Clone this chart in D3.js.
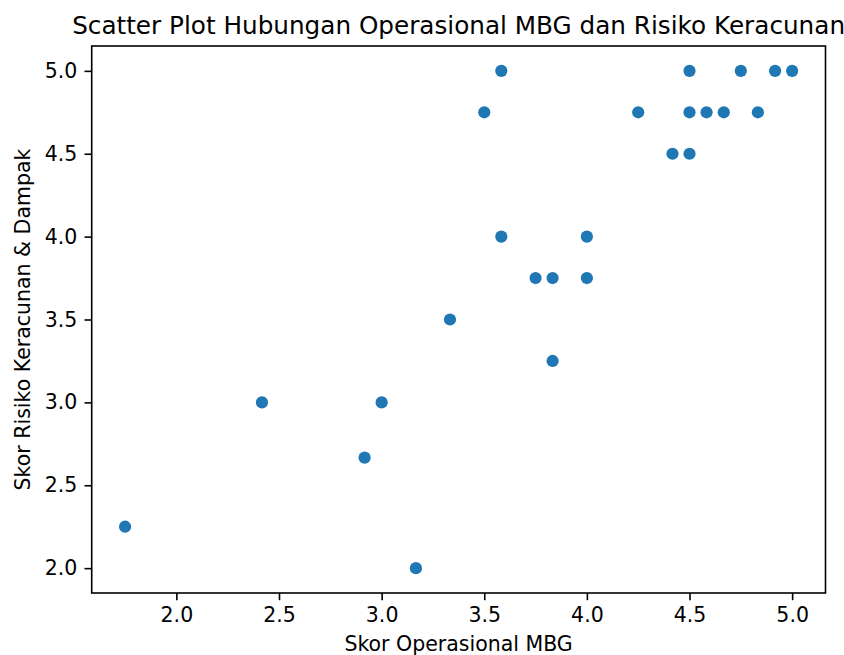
<!DOCTYPE html>
<html>
<head>
<meta charset="utf-8">
<script src="https://cdn.jsdelivr.net/npm/d3@7"></script>
<style>
  body { margin: 0; background: #fff; }
  svg { display: block; font-family: "DejaVu Sans", sans-serif; }
</style>
</head>
<body>
<div id="chart"></div>
<script>
// values
const skorOperasional = [1.75, 2.417, 3.0, 2.917, 3.167, 3.333, 3.5, 3.583, 3.583, 3.75, 3.833, 3.833, 4.0, 4.0,
  4.25, 4.417, 4.5, 4.5, 4.5, 4.583, 4.667, 4.75, 4.833, 4.917, 5.0];
const skorRisiko = [2.25, 3.0, 3.0, 2.667, 2.0, 3.5, 4.75, 5.0, 4.0, 3.75, 3.75, 3.25, 4.0, 3.75,
  4.75, 4.5, 4.5, 5.0, 4.75, 4.75, 4.75, 5.0, 4.75, 5.0, 5.0];
const xTicks = [2.0, 2.5, 3.0, 3.5, 4.0, 4.5, 5.0];
const yTicks = [2.0, 2.5, 3.0, 3.5, 4.0, 4.5, 5.0];

const chartTitle = "Scatter Plot Hubungan Operasional MBG dan Risiko Keracunan";
const xTitle = "Skor Operasional MBG";
const yTitle = "Skor Risiko Keracunan & Dampak";

const width = 844, height = 655;
const margin = { top: 46, right: 844 - 825.5, bottom: 655 - 593, left: 91.7 };
const tickLen = 7.2, tickPad = 7.2, fontSize = 20.5;

const data = skorOperasional.map((x, i) => ({ x, y: skorRisiko[i] }));

// matplotlib-like 5% padding around the data
const xExt = d3.extent(skorOperasional), yExt = d3.extent(skorRisiko);
const xPad = (xExt[1] - xExt[0]) * 0.05, yPad = (yExt[1] - yExt[0]) * 0.05;

const x = d3.scaleLinear()
  .domain([xExt[0] - xPad, xExt[1] + xPad])
  .range([margin.left, width - margin.right]);

const y = d3.scaleLinear()
  .domain([yExt[0] - yPad, yExt[1] + yPad])
  .range([height - margin.bottom, margin.top]);

const svg = d3.select("#chart").append("svg")
  .attr("width", width)
  .attr("height", height)
  .attr("viewBox", [0, 0, width, height]);

// points
svg.append("g")
  .attr("fill", "#1f77b4")
  .selectAll("circle")
  .data(data)
  .join("circle")
    .attr("cx", d => x(d.x))
    .attr("cy", d => y(d.y))
    .attr("r", 6.1);

// x axis
svg.append("g")
  .attr("transform", `translate(0,${height - margin.bottom})`)
  .call(d3.axisBottom(x).tickValues(xTicks).tickFormat(d3.format(".1f"))
    .tickSize(tickLen).tickPadding(tickPad))
  .call(g => g.select(".domain").remove())
  .call(g => g.selectAll(".tick line").attr("stroke", "#000").attr("stroke-width", 1.6))
  .call(g => g.selectAll(".tick text").attr("fill", "#000")
    .attr("font-size", fontSize).attr("font-family", "DejaVu Sans"));

// y axis
svg.append("g")
  .attr("transform", `translate(${margin.left},0)`)
  .call(d3.axisLeft(y).tickValues(yTicks).tickFormat(d3.format(".1f"))
    .tickSize(tickLen).tickPadding(tickPad))
  .call(g => g.select(".domain").remove())
  .call(g => g.selectAll(".tick line").attr("stroke", "#000").attr("stroke-width", 1.6))
  .call(g => g.selectAll(".tick text").attr("fill", "#000")
    .attr("font-size", fontSize).attr("font-family", "DejaVu Sans"));

// frame
svg.append("rect")
  .attr("x", margin.left)
  .attr("y", margin.top)
  .attr("width", width - margin.right - margin.left)
  .attr("height", height - margin.bottom - margin.top)
  .attr("fill", "none")
  .attr("stroke", "#000")
  .attr("stroke-width", 1.6);

// title
svg.append("text")
  .attr("x", (margin.left + width - margin.right) / 2)
  .attr("y", 33.7)
  .attr("text-anchor", "middle")
  .attr("font-size", 24.7)
  .attr("fill", "#000")
  .text(chartTitle);

// axis titles
svg.append("text")
  .attr("x", (margin.left + width - margin.right) / 2)
  .attr("y", 651)
  .attr("text-anchor", "middle")
  .attr("font-size", fontSize)
  .attr("fill", "#000")
  .text(xTitle);

svg.append("text")
  .attr("transform", `translate(29.5,${(margin.top + height - margin.bottom) / 2}) rotate(-90)`)
  .attr("text-anchor", "middle")
  .attr("font-size", fontSize)
  .attr("fill", "#000")
  .text(yTitle);
</script>
</body>
</html>
